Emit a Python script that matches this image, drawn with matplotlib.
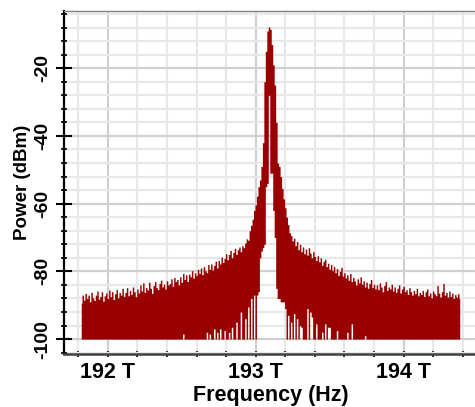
import numpy as np
import matplotlib.pyplot as plt
from matplotlib.ticker import MultipleLocator

plt.rcParams['font.family'] = ['Liberation Sans', 'DejaVu Sans']
plt.rcParams['font.weight'] = 'bold'

# spectrum trace, one sample every 10 GHz from 191.82 THz (tops)
f_start_thz = 191.82
f_step_thz = 0.01
peak_dbm = [
    -89.4, -87.0, -88.5, -86.5, -88.0, -87.0, -89.0, -86.2, -87.8, -88.6,
    -87.0, -85.8, -88.2, -87.4, -86.0, -88.8, -87.2, -86.4, -88.0, -85.5,
    -87.5, -86.0, -88.3, -86.6, -85.4, -87.8, -86.2, -87.0, -85.0, -87.4,
    -86.2, -84.8, -87.2, -85.6, -86.8, -84.6, -86.0, -87.5, -85.2, -86.4,
    -84.0, -85.8, -83.4, -86.2, -84.8, -85.5, -83.2, -85.0, -86.5, -84.2,
    -83.0, -84.8, -85.4, -83.6, -82.6, -84.6, -83.8, -85.2, -82.8, -84.0,
    -83.6, -82.2, -84.4, -81.8, -83.0, -82.4, -84.0, -81.6, -83.2, -80.6,
    -82.4, -81.0, -83.0, -80.8, -81.6, -79.8, -82.0, -80.4, -81.2, -79.4,
    -80.6, -79.0, -81.0, -78.6, -79.8, -80.4, -78.0, -79.4, -77.8, -79.6,
    -78.2, -77.0, -79.0, -76.8, -77.8, -75.8, -77.4, -76.2, -74.8, -76.6,
    -75.0, -73.8, -76.0, -74.4, -73.2, -75.0, -73.6, -72.8, -74.2, -72.4,
    -73.0, -71.6, -70.4, -70.8, -68.0, -66.4, -64.6, -62.0, -60.4, -57.8,
    -55.0, -53.0, -49.0, -42.0, -24.0, -15.0, -9.0, -7.8, -8.5, -13.0,
    -19.0, -25.0, -36.0, -48.0, -49.0, -52.0, -55.5, -58.6, -61.2, -64.0,
    -66.2, -68.6, -69.4, -71.0, -70.2, -72.4, -71.2, -73.6, -72.0, -74.2,
    -72.8, -74.8, -73.4, -75.2, -73.0, -74.6, -76.0, -74.2, -75.6, -76.8,
    -75.4, -77.2, -76.0, -78.2, -77.0, -76.4, -78.6, -77.6, -79.4, -78.0,
    -79.8, -78.6, -80.4, -79.2, -81.2, -80.0, -78.8, -81.4, -80.4, -82.0,
    -81.0, -82.6, -80.6, -83.0, -81.8, -82.8, -84.0, -82.2, -83.4, -81.6,
    -83.8, -82.8, -84.6, -83.2, -85.0, -83.6, -82.4, -84.8, -83.8, -85.2,
    -84.0, -85.4, -83.4, -84.6, -86.0, -84.2, -83.0, -85.6, -84.6, -85.2,
    -83.8, -85.8, -84.6, -86.2, -85.0, -84.0, -86.4, -85.2, -84.4, -86.0,
    -85.4, -86.8, -84.8, -86.0, -87.0, -85.6, -86.6, -85.0, -87.2, -86.2,
    -86.8, -85.6, -87.4, -86.0, -85.2, -87.2, -86.4, -87.8, -85.8, -86.6,
    -87.2, -84.2, -86.4, -87.6, -86.0, -83.6, -87.0, -86.2, -87.6, -85.8,
    -87.4, -86.4, -88.0, -86.8, -87.6, -86.6, -88.0,
]

# samples where the trace does not go down to the -100 dBm floor
dip_thz = [192.51, 192.67, 192.69, 192.72, 192.74, 192.76, 192.79, 192.82,
           192.84, 192.87, 192.90, 192.93, 192.95, 192.97, 192.99,
           193.01, 193.02, 193.03, 193.04, 193.05, 193.06, 193.07, 193.08,
           193.09, 193.10, 193.11, 193.12, 193.13, 193.14, 193.15, 193.16,
           193.17, 193.18, 193.19, 193.20,
           193.22, 193.24, 193.26, 193.28, 193.30, 193.31, 193.35, 193.37,
           193.38, 193.41, 193.45, 193.47, 193.49, 193.50, 193.55, 193.62,
           193.65, 193.74]
dip_dbm = [-98.5, -98.0, -98.5, -97.0, -98.0, -97.0, -97.5, -98.0,
           -96.5, -95.0, -92.0, -94.0, -90.5, -88.0, -87.0,
           -87.0, -86.0, -76.0, -74.0, -73.0, -72.0, -55.0, -54.0,
           -28.0, -51.0, -51.0, -62.0, -70.0, -85.0, -88.0, -88.0,
           -89.0, -89.0, -89.0, -91.0,
           -93.0, -95.0, -92.5, -94.0, -96.0, -96.5, -91.0, -92.0,
           -93.5, -95.5, -98.0, -95.5, -96.5, -96.5, -97.5, -98.0,
           -95.5, -99.0]
floor_dbm = -100.0

x_ticks_thz = [192, 193, 194]
x_tick_labels = ['192 T', '193 T', '194 T']
y_ticks_dbm = [-100, -80, -60, -40, -20]
y_tick_labels = ['-100', '-80', '-60', '-40', '-20']

freq = f_start_thz + f_step_thz * np.arange(len(peak_dbm))
upper = np.array(peak_dbm)
lower = np.full(len(peak_dbm), floor_dbm)
for f, v in zip(dip_thz, dip_dbm):
    lower[int(round((f - f_start_thz) / f_step_thz))] = v

fig = plt.figure(figsize=(4.75, 4.07), dpi=100)
ax = fig.add_axes([63.5 / 475, 53 / 407, 414 / 475, 343 / 407])

ax.fill_between(freq, lower, upper, step='mid', color='#990000', linewidth=0)

ax.set_xlim(191.7, 194.5)
ax.set_ylim(-104.4, -3.1)
ax.set_xticks(x_ticks_thz, x_tick_labels)
ax.set_yticks(y_ticks_dbm, y_tick_labels, rotation=90, va='center')
ax.xaxis.set_minor_locator(MultipleLocator(0.2))
ax.yaxis.set_minor_locator(MultipleLocator(4))

ax.set_axisbelow(True)
ax.grid(which='minor', color='#e8e8e8', linewidth=1.6)
ax.grid(which='major', color='#d0d0d0', linewidth=1.6)

ax.tick_params(axis='x', which='both', direction='inout', length=4, width=1.2,
               labelsize=15.5, pad=4)
ax.tick_params(axis='y', which='major', direction='inout', length=11, width=1.5,
               labelsize=14, pad=3)
ax.tick_params(axis='y', which='minor', direction='inout', length=5, width=1.2)

ax.set_xlabel('Frequency (Hz)', fontsize=15.5, fontweight='bold', labelpad=1)
ax.set_ylabel('Power (dBm)', fontsize=13.5, fontweight='bold', labelpad=3)

ax.spines['top'].set_linestyle((0, (1, 1)))
ax.spines['top'].set_color('#808080')
ax.spines['top'].set_linewidth(1.0)
ax.spines['right'].set_visible(False)
ax.spines['left'].set_linewidth(1.6)
ax.spines['bottom'].set_linewidth(1.8)
ax.spines['bottom'].set_color('#404040')

fig.savefig('out.png', dpi=100)
